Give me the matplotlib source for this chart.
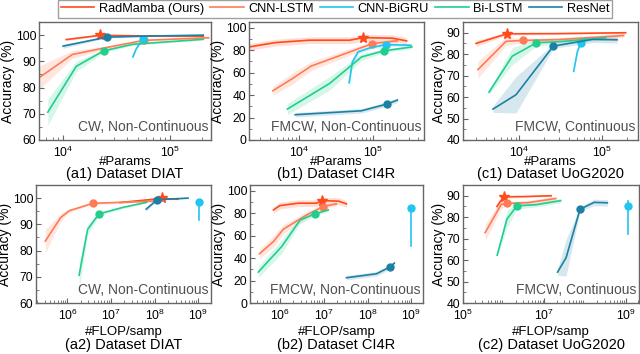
import matplotlib
matplotlib.use('Agg')
import matplotlib.pyplot as plt
import numpy as np
from matplotlib.ticker import AutoMinorLocator, LogLocator, NullFormatter
from matplotlib.lines import Line2D

plt.rcParams['font.family'] = ['Liberation Sans', 'DejaVu Sans']
plt.rcParams['mathtext.fontset'] = 'custom'
plt.rcParams['mathtext.rm'] = 'Liberation Sans'

models = ['RadMamba (Ours)', 'CNN-LSTM', 'CNN-BiGRU', 'Bi-LSTM', 'ResNet']
colors = ['#FF4A1C', '#FF7A55', '#22C4F0', '#20CF8C', '#1C80A6']

# ---- DIAT ----
diat_params_radmamba = [1.07e4, 2.2e4, 6e4, 2.05e5]
diat_flops_radmamba = [1.6e7, 1.5e8, 2.2e8, 3.4e8]
diat_acc_radmamba = [98.3, 99.9, 99.7, 99.6]
diat_std_radmamba = [0.4, 0.3, 0.3, 0.3]

diat_params_cnnlstm = [5.9e3, 1.22e4, 2.5e4, 5.7e4, 2.3e5]
diat_flops_cnnlstm = [3.1e5, 7e5, 1.1e6, 3.8e6, 1.6e8]
diat_acc_cnnlstm = [83.6, 92.6, 95.2, 98.0, 99.0]
diat_std_cnnlstm = [4.5, 1.5, 0.6, 0.4, 0.3]

diat_params_bigru = [4.5e4, 4.8e4, 5.1e4, 5.6e4]
diat_flops_bigru = [1.05e9, 1.05e9, 1.05e9, 1.05e9]
diat_acc_bigru = [91.7, 94.5, 96.2, 98.4]
diat_std_bigru = [1.0, 0.6, 0.4, 0.3]

diat_params_bilstm = [7.2e3, 1.33e4, 2.4e4, 4.5e4, 2.05e5]
diat_flops_bilstm = [1.85e6, 2.9e6, 5.3e6, 1.9e7, 6.5e7]
diat_acc_bilstm = [70.6, 88.1, 94.0, 96.5, 98.4]
diat_std_bilstm = [5.0, 2.0, 0.6, 0.4, 0.3]

diat_params_resnet = [1e4, 2.55e4, 5.6e4, 2.05e5]
diat_flops_resnet = [6.4e7, 1.1e8, 2.0e8, 5.8e8]
diat_acc_resnet = [95.8, 99.2, 99.6, 100.0]
diat_std_resnet = [0.8, 0.3, 0.2, 0.2]

# ---- CI4R ----
ci4r_params_radmamba = [2.1e3, 4.8e3, 1.37e4, 4.8e4, 7.3e4, 1.8e5, 2.8e5]
ci4r_flops_radmamba = [7.1e5, 1e6, 2.6e6, 6.8e6, 9.2e6, 2.2e7, 3.3e7]
ci4r_acc_radmamba = [82.8, 86.7, 88.8, 88.8, 91.1, 90.6, 88.2]
ci4r_std_radmamba = [3.0, 3.0, 3.0, 3.0, 3.0, 3.0, 3.0]

ci4r_params_cnnlstm = [4.4e3, 8.1e3, 1.44e4, 4.8e4, 9.7e4, 2.1e5]
ci4r_flops_cnnlstm = [3.4e5, 7.1e5, 1.2e6, 4.1e6, 9.7e6, 1.95e7]
ci4r_acc_cnnlstm = [43.8, 54.7, 65.7, 78.4, 85.8, 88.2]
ci4r_std_cnnlstm = [4.0, 5.0, 4.0, 3.0, 2.0, 2.0]

ci4r_params_bigru = [4.7e4, 5.2e4, 6.2e4, 9e4, 1.47e5, 3.2e5]
ci4r_flops_bigru = [1e9, 1e9, 1e9, 1e9, 1e9, 1e9]
ci4r_acc_bigru = [50.9, 69.5, 78.4, 82.0, 84.9, 84.3]
ci4r_std_bigru = [6.0, 3.0, 2.0, 1.5, 1.5, 1.5]

ci4r_params_bilstm = [6.9e3, 2.56e4, 6.9e4, 1.37e5, 3.3e5]
ci4r_flops_bilstm = [3.2e5, 1.1e6, 2.9e6, 6.3e6, 1.27e7]
ci4r_acc_bilstm = [27.5, 50.3, 73.9, 79.3, 82.8]
ci4r_std_bilstm = [5.0, 6.0, 3.0, 1.5, 1.5]

ci4r_params_resnet = [8.8e3, 6.9e4, 1.5e5, 2.1e5]
ci4r_flops_resnet = [3.3e7, 1.6e8, 3.2e8, 4.1e8]
ci4r_acc_resnet = [22.5, 26.0, 31.9, 35.5]
ci4r_std_resnet = [2.0, 2.0, 2.0, 2.0]

# ---- UoG2020 ----
uog_params_radmamba = [3.0e3, 7.05e3, 3e4, 1.9e5]
uog_flops_radmamba = [6.8e5, 9.9e5, 3e6, 1.46e7]
uog_acc_radmamba = [85.0, 89.5, 89.6, 90.0]
uog_std_radmamba = [1.5, 0.6, 0.4, 0.4]

uog_params_cnnlstm = [3.16e3, 6.9e3, 1.1e4, 3.0e4, 1.8e5]
uog_flops_cnnlstm = [3.5e5, 8.7e5, 1.2e6, 4e6, 1.9e7]
uog_acc_cnnlstm = [72.8, 86.0, 86.4, 86.8, 88.7]
uog_std_cnnlstm = [4.0, 2.0, 1.0, 1.0, 1.0]

uog_params_bigru = [4.5e4, 5.0e4, 5.5e4, 6.2e4]
uog_flops_bigru = [1.1e9, 1.1e9, 1.1e9, 1.1e9]
uog_acc_bigru = [72.0, 81.4, 85.3, 87.5]
uog_std_bigru = [1.0, 1.0, 1.0, 1.0]

uog_params_bilstm = [4.3e3, 8.2e3, 1.6e4, 3e4, 1.1e5]
uog_flops_bilstm = [6.9e5, 1.2e6, 2.1e6, 6.2e6, 2.5e7]
uog_acc_bilstm = [62.3, 79.1, 85.3, 85.8, 87.7]
uog_std_bilstm = [1.0, 4.0, 1.5, 1.0, 1.0]

uog_params_resnet = [4.8e3, 9.1e3, 2.56e4, 7.6e4, 1.5e5]
uog_flops_resnet = [2.1e7, 3.4e7, 7.5e7, 1.66e8, 3.5e8]
uog_acc_resnet = [54.4, 61.1, 83.75, 86.9, 86.7]
uog_std_resnet = [1.5, 8.5, 1.0, 1.5, 1.5]

marker_idx = {
    'diat': [1, 3, 3, 2, 1],
    'ci4r': [4, 4, 4, 3, 2],
    'uog': [1, 2, 2, 2, 2],
}

series = {
    'diat': [
        (diat_params_radmamba, diat_flops_radmamba, diat_acc_radmamba, diat_std_radmamba),
        (diat_params_cnnlstm, diat_flops_cnnlstm, diat_acc_cnnlstm, diat_std_cnnlstm),
        (diat_params_bigru, diat_flops_bigru, diat_acc_bigru, diat_std_bigru),
        (diat_params_bilstm, diat_flops_bilstm, diat_acc_bilstm, diat_std_bilstm),
        (diat_params_resnet, diat_flops_resnet, diat_acc_resnet, diat_std_resnet),
    ],
    'ci4r': [
        (ci4r_params_radmamba, ci4r_flops_radmamba, ci4r_acc_radmamba, ci4r_std_radmamba),
        (ci4r_params_cnnlstm, ci4r_flops_cnnlstm, ci4r_acc_cnnlstm, ci4r_std_cnnlstm),
        (ci4r_params_bigru, ci4r_flops_bigru, ci4r_acc_bigru, ci4r_std_bigru),
        (ci4r_params_bilstm, ci4r_flops_bilstm, ci4r_acc_bilstm, ci4r_std_bilstm),
        (ci4r_params_resnet, ci4r_flops_resnet, ci4r_acc_resnet, ci4r_std_resnet),
    ],
    'uog': [
        (uog_params_radmamba, uog_flops_radmamba, uog_acc_radmamba, uog_std_radmamba),
        (uog_params_cnnlstm, uog_flops_cnnlstm, uog_acc_cnnlstm, uog_std_cnnlstm),
        (uog_params_bigru, uog_flops_bigru, uog_acc_bigru, uog_std_bigru),
        (uog_params_bilstm, uog_flops_bilstm, uog_acc_bilstm, uog_std_bilstm),
        (uog_params_resnet, uog_flops_resnet, uog_acc_resnet, uog_std_resnet),
    ],
}

notes = {'diat': 'CW, Non-Continuous', 'ci4r': 'FMCW, Non-Continuous', 'uog': 'FMCW, Continuous'}
names = {'diat': 'DIAT', 'ci4r': 'CI4R', 'uog': 'UoG2020'}
ylims = {'diat': (60, 105), 'ci4r': (0, 105), 'uog': (40, 95)}
yticks = {'diat': [60, 70, 80, 90, 100], 'ci4r': [0, 20, 40, 60, 80, 100], 'uog': [40, 50, 60, 70, 80, 90]}

# pixel boxes: left, right, top, bottom
boxes = {
    ('diat', 0): (39, 211, 22, 140), ('ci4r', 0): (249, 424, 22, 140), ('uog', 0): (463, 638, 22, 140),
    ('diat', 1): (36, 211, 185, 303), ('ci4r', 1): (250, 423, 185, 303), ('uog', 1): (463, 639, 185, 303),
}
xlims = {
    ('diat', 0): (5.96e3, 2.42e5), ('ci4r', 0): (2.1e3, 4.8e5), ('uog', 0): (2.09e3, 2.68e5),
    ('diat', 1): (1.9e5, 1.95e9), ('ci4r', 1): (2.07e5, 1.85e9), ('uog', 1): (1e5, 2.1e9),
}
xticks = {
    ('diat', 0): [1e4, 1e5], ('ci4r', 0): [1e4, 1e5], ('uog', 0): [1e4, 1e5],
    ('diat', 1): [1e6, 1e7, 1e8, 1e9], ('ci4r', 1): [1e6, 1e7, 1e8, 1e9], ('uog', 1): [1e5, 1e7, 1e9],
}
tags = {'diat': 'a', 'ci4r': 'b', 'uog': 'c'}

W, H = 640, 354
fig = plt.figure(figsize=(6.4, 3.54), dpi=100)

for (ds, row), (l, r, t, b) in boxes.items():
    ax = fig.add_axes([l / W, 1 - b / H, (r - l) / W, (b - t) / H])
    for i, (params, flops, acc, std) in enumerate(series[ds]):
        x = np.array(params if row == 0 else flops)
        y = np.array(acc)
        s = np.array(std)
        ax.fill_between(x, y - s, y + s, color=colors[i], alpha=0.18, linewidth=0)
        mk = '*' if i == 0 else 'o'
        ms = 8 if i == 0 else 5
        ax.plot(x, y, color=colors[i], lw=1.2, marker=mk, ms=ms,
                markevery=[marker_idx[ds][i]], label=models[i])
    ax.set_xscale('log')
    ax.set_xlim(*xlims[(ds, row)])
    ax.set_ylim(*ylims[ds])
    ax.set_yticks(yticks[ds])
    ax.set_xticks(xticks[(ds, row)])
    ax.xaxis.set_minor_locator(LogLocator(base=10, subs=np.arange(2, 10), numticks=20))
    ax.xaxis.set_minor_formatter(NullFormatter())
    ax.yaxis.set_minor_locator(AutoMinorLocator(2))
    ax.tick_params(which='both', direction='in', color='#666666', labelsize=8.7, pad=2)
    ax.tick_params(axis='x', pad=3.5)
    ax.tick_params(which='major', length=3.5, width=0.8)
    ax.tick_params(which='minor', length=2, width=0.6)
    for sp in ax.spines.values():
        sp.set_color('#666666')
        sp.set_linewidth(1.0)
    ax.set_ylabel('Accuracy (%)', fontsize=10, labelpad=0.5)
    ax.text(0.985, 0.05, notes[ds], transform=ax.transAxes, ha='right', va='bottom',
            fontsize=10, color='#505050')
    cx = (l + r) / 2 / W
    if row == 0:
        fig.text(cx, 1 - 162 / H, '#Params', ha='center', va='center', fontsize=9.5)
        fig.text(cx, 1 - 174 / H, '(%s1) Dataset %s' % (tags[ds], names[ds]),
                 ha='center', va='center', fontsize=10.5)
    else:
        fig.text(cx, 1 - 332 / H, '#FLOP/samp', ha='center', va='center', fontsize=9.5)
        fig.text(cx, 1 - 345 / H, '(%s2) Dataset %s' % (tags[ds], names[ds]),
                 ha='center', va='center', fontsize=10.5)

leg_handles = [Line2D([], [], color=c, lw=1.2) for c in colors]
fig.legend(leg_handles, models, loc='lower center', bbox_to_anchor=(335 / W, 1 - 18 / H),
           ncol=5, fontsize=9.2, frameon=True, fancybox=False, edgecolor='#888888',
           handlelength=2.6, handletextpad=0.35, columnspacing=0.5, borderpad=0.25,
           borderaxespad=0)

fig.savefig('out.png', dpi=100)
